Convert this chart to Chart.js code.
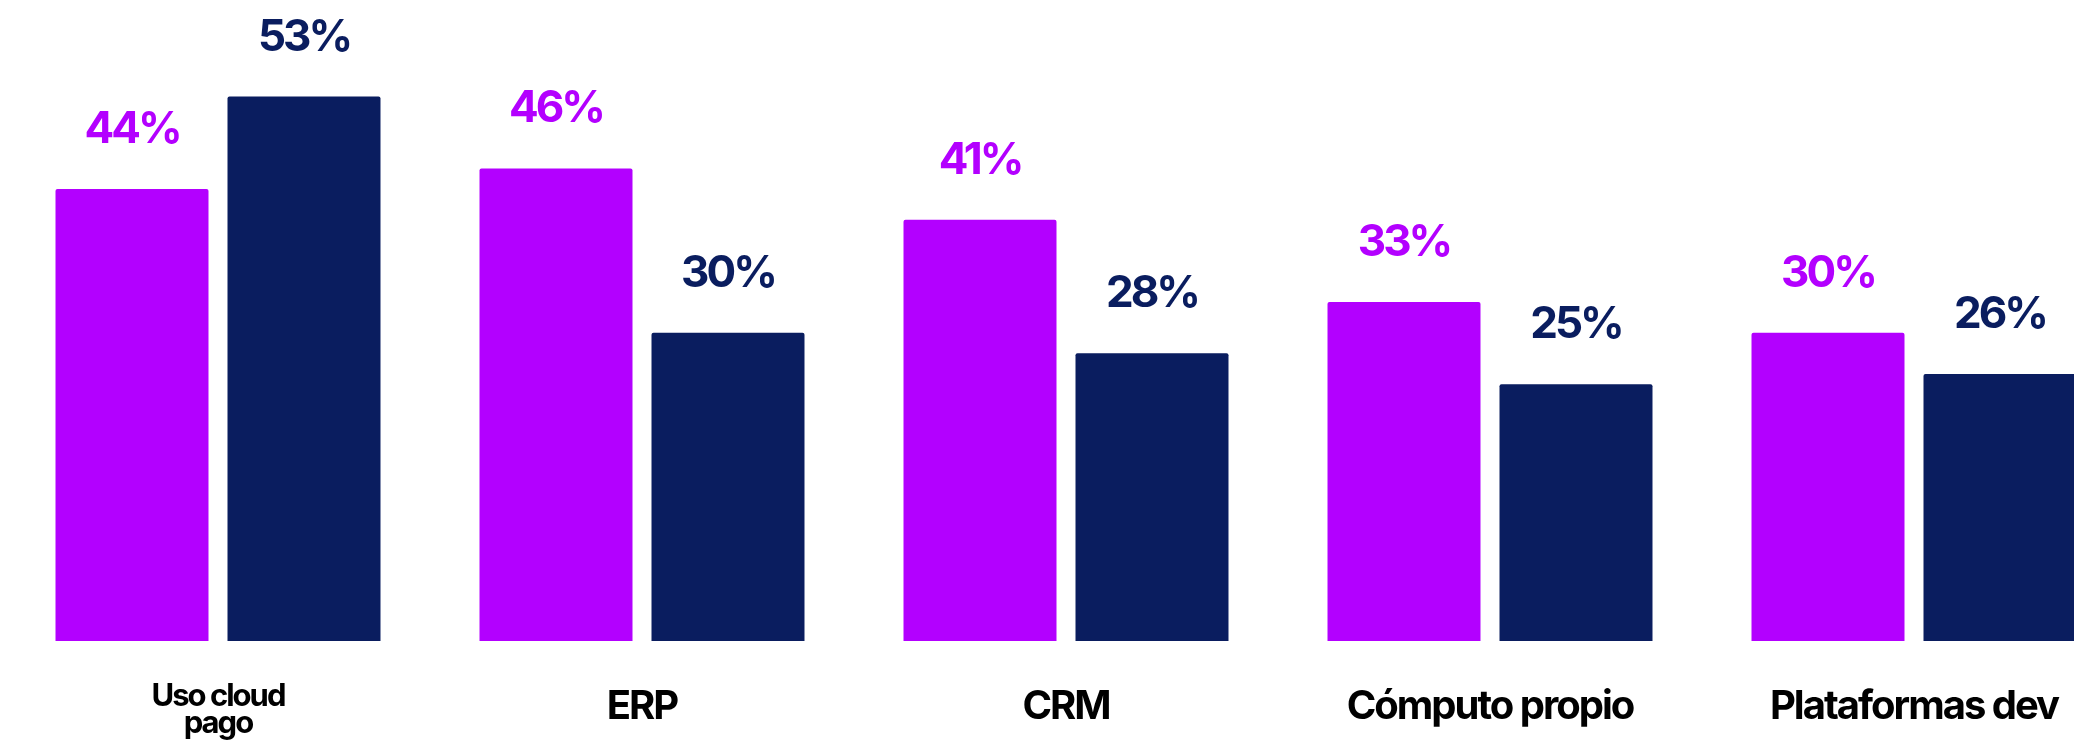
<!DOCTYPE html>
<html>
<head>
<meta charset="utf-8">
<script src="https://cdn.jsdelivr.net/npm/chart.js@4/dist/chart.umd.min.js"></script>
<style>
    html, body {
        margin: 0;
        padding: 0;
        background: #ffffff;
        overflow: hidden;
    }
    #wrap {
        width: 2126px;
        height: 744px;
    }
</style>
</head>
<body>
<div id="wrap"><canvas id="graficoUso"></canvas></div>
<script>
const categorias = [["Uso cloud", "pago"], "ERP", "CRM", "Cómputo propio", "Plataformas dev"];
const serieA = [44, 46, 41, 33, 30];
const serieB = [53, 30, 28, 25, 26];

const corA = "#B300FF";
const corB = "#0A1D5F";

// espaçamento de letras mais apertado para os rótulos do eixo
const espacamento = {
    id: "espacamento",
    beforeUpdate(chart) {
        chart.ctx.letterSpacing = "-2px";
    },
    beforeDraw(chart) {
        chart.ctx.letterSpacing = "-2px";
    }
};

// rótulos de valor acima de cada barra
const rotulosValor = {
    id: "rotulosValor",
    afterDatasetsDraw(chart) {
        const ctx = chart.ctx;
        ctx.save();
        ctx.font = "700 44px Inter";
        ctx.letterSpacing = "-3px";
        ctx.textAlign = "center";
        ctx.textBaseline = "alphabetic";
        chart.data.datasets.forEach((ds, i) => {
            const meta = chart.getDatasetMeta(i);
            ctx.fillStyle = ds.backgroundColor;
            meta.data.forEach((barra, j) => {
                ctx.fillText(ds.data[j] + "%", barra.x, barra.y - 46);
            });
        });
        ctx.restore();
    }
};

const ctx = document.getElementById("graficoUso").getContext("2d");

new Chart(ctx, {
    type: "bar",
    data: {
        labels: categorias,
        datasets: [{
            label: "A",
            data: serieA,
            backgroundColor: corA,
            borderRadius: 2,
            categoryPercentage: 0.8113,
            barPercentage: 0.8895
        }, {
            label: "B",
            data: serieB,
            backgroundColor: corB,
            borderRadius: 2,
            categoryPercentage: 0.8113,
            barPercentage: 0.8895
        }]
    },
    options: {
        responsive: true,
        maintainAspectRatio: false,
        animation: false,
        layout: {
            padding: { left: 6, right: 0, top: 0, bottom: 0 }
        },
        scales: {
            x: {
                grid: { display: false, drawTicks: false },
                border: { display: false },
                afterFit: (escala) => { escala.height = 103; },
                ticks: {
                    padding: 42,
                    color: "#000000",
                    maxRotation: 0,
                    autoSkip: false,
                    font: (c) => c.index === 0
                        ? { family: "Inter", size: 31, weight: "700", lineHeight: 0.88 }
                        : { family: "Inter", size: 40, weight: "700", lineHeight: 1.2 }
                }
            },
            y: {
                display: false,
                min: 0,
                max: 62.4
            }
        },
        plugins: {
            legend: { display: false },
            tooltip: { enabled: false }
        }
    },
    plugins: [espacamento, rotulosValor]
});
</script>
</body>
</html>
